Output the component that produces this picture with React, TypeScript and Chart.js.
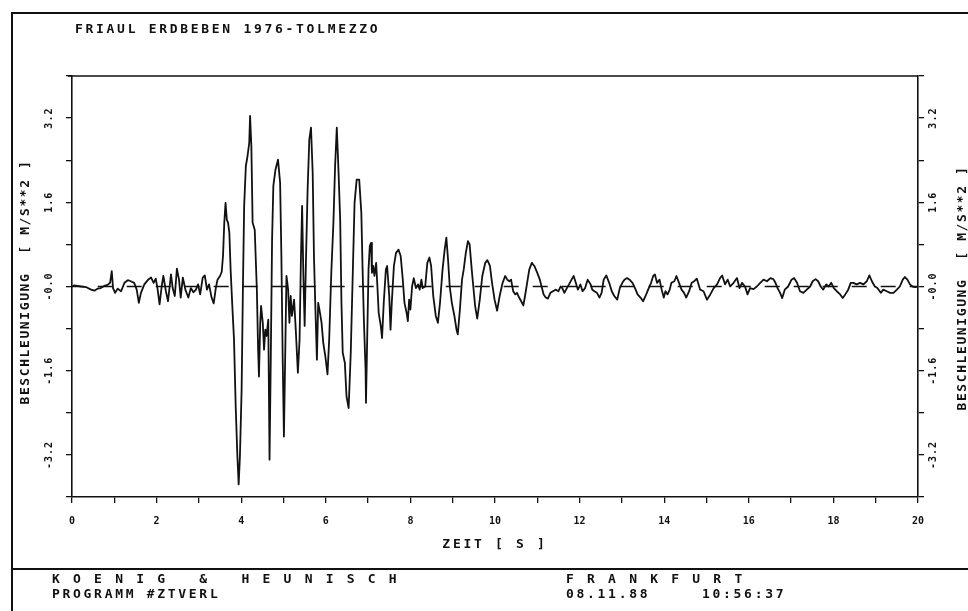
import React, { useEffect, useRef } from 'react';
import { Chart, registerables } from 'chart.js';

Chart.register(...registerables);

// ---------- data ----------
const timeS = [
  0.00, 0.05, 0.21, 0.33, 0.45, 0.53, 0.61, 0.68, 0.76, 0.84, 0.90, 0.94, 0.97, 1.02, 1.08, 1.16, 1.24, 1.32, 1.39, 1.47,
  1.53, 1.58, 1.63, 1.71, 1.80, 1.87, 1.93, 1.98, 2.02, 2.07, 2.12, 2.16, 2.22, 2.27, 2.34, 2.38, 2.43, 2.48, 2.53, 2.57,
  2.62, 2.68, 2.75, 2.81, 2.87, 2.93, 2.98, 3.03, 3.09, 3.14, 3.19, 3.24, 3.30, 3.35, 3.40, 3.44, 3.50, 3.54, 3.57, 3.60,
  3.63, 3.66, 3.69, 3.72, 3.75, 3.79, 3.83, 3.87, 3.91, 3.94, 3.97, 4.01, 4.04, 4.07, 4.11, 4.15, 4.19, 4.21, 4.24, 4.27,
  4.32, 4.37, 4.40, 4.42, 4.45, 4.47, 4.51, 4.54, 4.57, 4.60, 4.64, 4.67, 4.70, 4.73, 4.76, 4.81, 4.87, 4.92, 4.95, 4.98,
  5.01, 5.04, 5.07, 5.11, 5.14, 5.17, 5.20, 5.25, 5.29, 5.34, 5.38, 5.41, 5.44, 5.47, 5.50, 5.53, 5.57, 5.61, 5.65, 5.69,
  5.72, 5.75, 5.79, 5.82, 5.85, 5.90, 5.94, 5.99, 6.04, 6.08, 6.13, 6.18, 6.22, 6.26, 6.30, 6.34, 6.37, 6.40, 6.45, 6.49,
  6.54, 6.59, 6.64, 6.68, 6.73, 6.79, 6.84, 6.87, 6.90, 6.94, 6.95, 6.98, 7.01, 7.04, 7.07, 7.09, 7.12, 7.15, 7.19, 7.22,
  7.25, 7.30, 7.33, 7.37, 7.42, 7.45, 7.50, 7.53, 7.56, 7.61, 7.66, 7.72, 7.77, 7.82, 7.86, 7.91, 7.94, 7.97, 8.00, 8.04,
  8.08, 8.13, 8.18, 8.22, 8.26, 8.29, 8.35, 8.40, 8.45, 8.49, 8.54, 8.60, 8.65, 8.70, 8.76, 8.81, 8.85, 8.89, 8.93, 8.98,
  9.04, 9.09, 9.12, 9.17, 9.22, 9.26, 9.31, 9.36, 9.40, 9.45, 9.53, 9.58, 9.64, 9.70, 9.77, 9.82, 9.88, 9.93, 9.99, 10.05,
  10.11, 10.18, 10.24, 10.29, 10.34, 10.38, 10.43, 10.48, 10.52, 10.57, 10.62, 10.67, 10.71, 10.76, 10.81, 10.87, 10.93, 11.00, 11.06, 11.11,
  11.15, 11.20, 11.25, 11.31, 11.37, 11.44, 11.50, 11.55, 11.59, 11.64, 11.70, 11.75, 11.81, 11.86, 11.91, 11.96, 12.02, 12.07, 12.13, 12.19,
  12.26, 12.30, 12.35, 12.41, 12.47, 12.52, 12.57, 12.63, 12.70, 12.76, 12.82, 12.89, 12.95, 13.01, 13.06, 13.12, 13.18, 13.25, 13.31, 13.37,
  13.44, 13.50, 13.56, 13.62, 13.69, 13.74, 13.78, 13.83, 13.89, 13.94, 13.99, 14.03, 14.08, 14.13, 14.17, 14.24, 14.29, 14.35, 14.41, 14.47,
  14.52, 14.59, 14.65, 14.71, 14.77, 14.85, 14.93, 15.01, 15.09, 15.17, 15.25, 15.32, 15.37, 15.44, 15.50, 15.56, 15.64, 15.72, 15.78, 15.84,
  15.91, 15.97, 16.03, 16.11, 16.19, 16.27, 16.35, 16.43, 16.51, 16.58, 16.63, 16.68, 16.74, 16.79, 16.85, 16.93, 17.01, 17.07, 17.14, 17.21,
  17.29, 17.37, 17.45, 17.51, 17.58, 17.64, 17.70, 17.76, 17.83, 17.89, 17.95, 18.01, 18.08, 18.16, 18.22, 18.28, 18.35, 18.41, 18.47, 18.55,
  18.63, 18.71, 18.79, 18.85, 18.91, 18.98, 19.04, 19.12, 19.18, 19.26, 19.34, 19.42, 19.50, 19.57, 19.64, 19.69, 19.75, 19.81, 19.87, 19.93,
  20.00,
];

const accel = [
  0.00, 0.02, 0.00, -0.01, -0.06, -0.08, -0.04, -0.03, 0.01, 0.03, 0.07, 0.29, -0.03, -0.12, -0.04, -0.09, 0.07, 0.12, 0.10, 0.07,
  -0.06, -0.31, -0.12, 0.04, 0.13, 0.17, 0.07, 0.15, -0.03, -0.34, 0.00, 0.20, -0.09, -0.28, 0.23, -0.03, -0.18, 0.34, 0.13, -0.21,
  0.17, -0.06, -0.21, -0.03, -0.11, -0.06, 0.04, -0.15, 0.17, 0.21, -0.06, 0.04, -0.21, -0.32, -0.03, 0.13, 0.20, 0.28, 0.58, 1.21,
  1.59, 1.27, 1.21, 1.02, 0.32, -0.37, -1.01, -2.28, -3.23, -3.76, -3.23, -1.96, -0.06, 1.53, 2.29, 2.48, 2.73, 3.24, 2.67, 1.21,
  1.08, -0.06, -1.20, -1.71, -0.69, -0.37, -0.69, -1.20, -0.82, -0.94, -0.63, -3.29, -1.33, 0.89, 1.91, 2.22, 2.41, 1.97, 0.58, -1.33,
  -2.85, -1.33, 0.20, -0.06, -0.69, -0.18, -0.56, -0.25, -0.82, -1.64, -1.01, 0.45, 1.53, 0.20, -0.75, 0.45, 1.84, 2.79, 3.02, 2.16,
  0.58, -0.31, -1.39, -0.31, -0.44, -0.69, -1.07, -1.33, -1.67, -1.01, 0.26, 1.21, 2.29, 3.02, 2.20, 1.27, -0.31, -1.26, -1.45, -2.09,
  -2.31, -1.26, 0.32, 1.59, 2.03, 2.03, 1.40, 0.32, -0.63, -1.58, -2.21, -0.94, 0.32, 0.77, 0.83, 0.26, 0.39, 0.20, 0.45, 0.00,
  -0.50, -0.75, -0.98, -0.31, 0.32, 0.39, -0.18, -0.82, -0.31, 0.39, 0.64, 0.70, 0.58, 0.13, -0.31, -0.50, -0.66, -0.25, -0.44, 0.00,
  0.16, -0.03, 0.04, -0.06, 0.13, -0.03, 0.00, 0.45, 0.55, 0.39, -0.18, -0.56, -0.69, -0.31, 0.32, 0.70, 0.93, 0.51, 0.00, -0.31,
  -0.56, -0.82, -0.91, -0.44, 0.13, 0.32, 0.64, 0.86, 0.80, 0.32, -0.37, -0.61, -0.25, 0.20, 0.45, 0.50, 0.39, 0.07, -0.25, -0.46,
  -0.18, 0.07, 0.20, 0.13, 0.10, 0.13, -0.09, -0.15, -0.12, -0.21, -0.28, -0.36, -0.18, 0.07, 0.32, 0.45, 0.39, 0.26, 0.13, -0.03,
  -0.15, -0.21, -0.23, -0.12, -0.09, -0.06, -0.09, 0.00, -0.03, -0.12, -0.03, 0.04, 0.13, 0.20, 0.07, -0.06, 0.04, -0.09, -0.03, 0.13,
  0.04, -0.06, -0.09, -0.12, -0.21, -0.12, 0.13, 0.21, 0.07, -0.09, -0.18, -0.25, -0.03, 0.07, 0.13, 0.16, 0.13, 0.07, -0.03, -0.15,
  -0.21, -0.28, -0.18, -0.06, 0.07, 0.20, 0.23, 0.07, 0.13, -0.06, -0.21, -0.09, -0.15, -0.06, 0.07, 0.10, 0.20, 0.07, -0.06, -0.12,
  -0.21, -0.09, 0.07, 0.10, 0.15, -0.06, -0.09, -0.25, -0.15, -0.03, 0.04, 0.16, 0.21, 0.04, 0.13, 0.00, 0.07, 0.16, -0.03, 0.07,
  0.00, -0.15, -0.03, -0.05, 0.00, 0.07, 0.13, 0.10, 0.16, 0.14, 0.07, -0.03, -0.12, -0.22, -0.06, 0.00, 0.13, 0.16, 0.07, -0.09,
  -0.12, -0.06, 0.00, 0.10, 0.14, 0.10, 0.00, -0.06, 0.04, 0.00, 0.07, -0.03, -0.09, -0.15, -0.22, -0.15, -0.06, 0.07, 0.07, 0.04,
  0.07, 0.04, 0.10, 0.21, 0.10, 0.00, -0.03, -0.12, -0.06, -0.09, -0.12, -0.12, -0.06, 0.00, 0.13, 0.18, 0.13, 0.04, 0.00, -0.01,
  0.00,
];

const zeroLineT = [0, 20];
const zeroLineA = [0, 0];

const xLabelValues = [0, 2, 4, 6, 8, 10, 12, 14, 16, 18, 20];
const yLabelValues = [-3.2, -1.6, 0, 1.6, 3.2];
const yLabelTexts = ['-3.2', '-1.6', '-0.0', '1.6', '3.2'];

const TITLE = 'FRIAUL ERDBEBEN 1976-TOLMEZZO';
const Y_TITLE = 'BESCHLEUNIGUNG  [ M/S**2 ]';
const X_TITLE = 'ZEIT [ S ]';
const FOOT_LEFT_1 = 'K O E N I G   &   H E U N I S C H';
const FOOT_LEFT_2 = 'PROGRAMM #ZTVERL';
const FOOT_RIGHT_1 = 'F R A N K F U R T';
const FOOT_DATE = '08.11.88';
const FOOT_TIME = '10:56:37';

const INK = '#111111';
const MONO = '"DejaVu Sans Mono", "Liberation Mono", monospace';

function rotText(ctx: CanvasRenderingContext2D, text: string, x: number, y: number) {
  ctx.save();
  ctx.translate(x, y);
  ctx.rotate(-Math.PI / 2);
  ctx.textAlign = 'center';
  ctx.textBaseline = 'middle';
  ctx.fillText(text, 0, 0);
  ctx.restore();
}

const decorPlugin = {
  id: 'decor',
  beforeDraw(chart: any) {
    const ctx = chart.ctx as CanvasRenderingContext2D;
    ctx.save();
    ctx.fillStyle = '#ffffff';
    ctx.fillRect(0, 0, chart.width, chart.height);
    ctx.restore();
  },
  afterDraw(chart: any) {
    const ctx = chart.ctx as CanvasRenderingContext2D;
    const { left, right, top } = chart.chartArea;
    const yL = chart.scales.y;
    ctx.save();
    ctx.strokeStyle = INK;
    ctx.fillStyle = INK;

    // outer frame and separator
    ctx.lineWidth = 2;
    ctx.strokeRect(12, 13, 990, 650);
    ctx.beginPath();
    ctx.moveTo(12, 569);
    ctx.lineTo(968, 569);
    ctx.stroke();

    // top line of the plot frame
    ctx.lineWidth = 1.5;
    ctx.beginPath();
    ctx.moveTo(left - 4, top);
    ctx.lineTo(right, top);
    ctx.stroke();

    // texts
    (ctx as any).letterSpacing = '2.7px';
    ctx.font = `bold 13px ${MONO}`;
    ctx.textAlign = 'left';
    ctx.textBaseline = 'middle';
    ctx.fillText(TITLE, 75, 30);
    ctx.fillText(FOOT_LEFT_1, 52, 580);
    ctx.fillText(FOOT_LEFT_2, 52, 595);
    ctx.fillText(FOOT_RIGHT_1, 566, 580);
    ctx.fillText(FOOT_DATE, 566, 595);
    ctx.fillText(FOOT_TIME, 702, 595);

    ctx.textAlign = 'center';
    ctx.fillText(X_TITLE, (left + right) / 2, 545);

    (ctx as any).letterSpacing = '1.6px';
    rotText(ctx, Y_TITLE, 26, 282);
    rotText(ctx, Y_TITLE, 963, 288);

    // rotated y tick labels on both sides
    (ctx as any).letterSpacing = '1px';
    ctx.font = `bold 10px ${MONO}`;
    yLabelValues.forEach((v, i) => {
      const py = yL.getPixelForValue(v);
      rotText(ctx, yLabelTexts[i], 49, py);
      rotText(ctx, yLabelTexts[i], 933, py);
    });
    ctx.restore();
  },
};

const gridOpts = {
  drawOnChartArea: false,
  drawTicks: true,
  tickLength: 6,
  color: INK,
  lineWidth: 1.3,
};
const borderOpts = { display: true, color: INK, width: 1.6 };

export default function App() {
  const ref = useRef<HTMLCanvasElement>(null);

  useEffect(() => {
    if (!ref.current) return;
    const chart = new Chart(ref.current, {
      type: 'line',
      data: {
        datasets: [
          {
            label: 'Beschleunigung',
            data: timeS.map((t, i) => ({ x: t, y: accel[i] })),
            borderColor: INK,
            borderWidth: 1.8,
            pointRadius: 0,
            tension: 0,
            yAxisID: 'y',
            order: 1,
          },
          {
            label: 'Null',
            data: zeroLineT.map((t, i) => ({ x: t, y: zeroLineA[i] })),
            borderColor: INK,
            borderWidth: 1.6,
            borderDash: [15, 14],
            borderDashOffset: 3.3,
            pointRadius: 0,
            yAxisID: 'y',
            order: 2,
          },
        ],
      },
      options: {
        animation: false,
        responsive: false,
        devicePixelRatio: 1,
        layout: { padding: { left: 12, right: 10, top: 76, bottom: 54 } },
        elements: { line: { borderJoinStyle: 'round', borderCapStyle: 'butt' } },
        plugins: {
          legend: { display: false },
          tooltip: { enabled: false },
          title: { display: false },
        },
        scales: {
          x: {
            type: 'linear',
            position: 'bottom',
            min: 0,
            max: 20,
            ticks: {
              stepSize: 1,
              autoSkip: false,
              maxRotation: 0,
              minRotation: 0,
              padding: 12,
              color: INK,
              font: { family: MONO, size: 10, weight: 'bold' },
              callback: (v: any) => (xLabelValues.includes(Math.round(Number(v))) ? String(Math.round(Number(v))) : ''),
            },
            grid: gridOpts,
            border: borderOpts,
            afterFit: (s: any) => {
              s.height = 60;
            },
          },
          y: {
            type: 'linear',
            position: 'left',
            min: -4,
            max: 4,
            ticks: { stepSize: 0.8, display: false },
            grid: gridOpts,
            border: borderOpts,
            afterFit: (s: any) => {
              s.width = 60;
            },
          },
          y2: {
            type: 'linear',
            position: 'right',
            min: -4,
            max: 4,
            ticks: { stepSize: 0.8, display: false },
            grid: gridOpts,
            border: borderOpts,
            afterFit: (s: any) => {
              s.width = 40;
            },
          },
        },
      } as any,
      plugins: [decorPlugin],
    });
    return () => chart.destroy();
  }, []);

  return (
    <div style={{ position: 'absolute', left: 0, top: 0, width: 968, height: 611, background: '#fff' }}>
      <canvas ref={ref} width={968} height={611} style={{ display: 'block', width: 968, height: 611 }} />
    </div>
  );
}
